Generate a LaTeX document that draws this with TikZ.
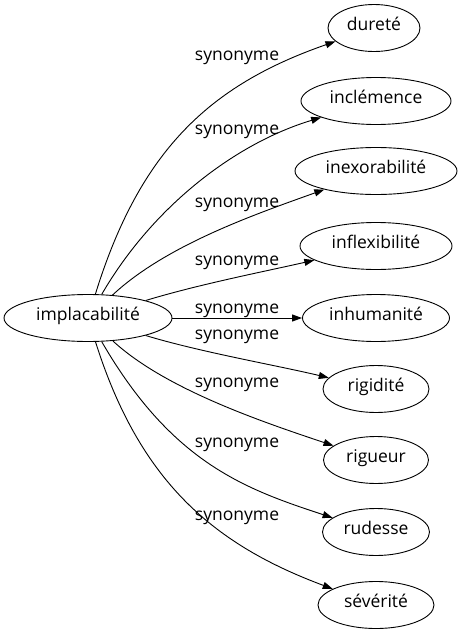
\documentclass[tikz,border=0pt]{standalone}
\usepackage{fontspec}
\setmainfont{Open Sans}
\usetikzlibrary{shapes.geometric,arrows.meta}
\begin{document}
\begin{tikzpicture}[x=1pt,y=-1pt,
  every node/.style={font=\fontsize{17.5}{20}\selectfont},
  term/.style={draw,line width=0.9pt,ellipse,inner sep=0pt,minimum height=47pt,text height=0.77em,text depth=0.23em},
  rel/.style={anchor=base,inner sep=0pt},
  link/.style={line width=0.9pt,-{Triangle[length=10pt,width=7pt]}}]
\useasboundingbox (0,0) rectangle (462,635);
\node[term,minimum width=168pt] (src) at (88,318) {implacabilité};
\node[term,minimum width=92pt]  (t1) at (374,28)  {dureté};
\node[term,minimum width=150pt] (t2) at (376,101) {inclémence};
\node[term,minimum width=162pt] (t3) at (376,171) {inexorabilité};
\node[term,minimum width=152pt] (t4) at (376,246) {inflexibilité};
\node[term,minimum width=147pt] (t5) at (376,318) {inhumanité};
\node[term,minimum width=106pt] (t6) at (376,389) {rigidité};
\node[term,minimum width=105pt] (t7) at (376,460) {rigueur};
\node[term,minimum width=107pt] (t8) at (376,532) {rudesse};
\node[term,minimum width=116pt] (t9) at (376,605) {sévérité};
\node[rel] (l1) at (237,60)  {synonyme};
\node[rel] (l2) at (237,134) {synonyme};
\node[rel] (l3) at (237,207) {synonyme};
\node[rel] (l4) at (237,265) {synonyme};
\node[rel] (l5) at (237,313) {synonyme};
\node[rel] (l6) at (237,339) {synonyme};
\node[rel] (l7) at (237,387) {synonyme};
\node[rel] (l8) at (237,447) {synonyme};
\node[rel] (l9) at (237,520) {synonyme};
\draw[link] (src) .. controls (140,150) and (210,85) .. (t1);
\draw[link] (src) .. controls (153,206) and (236,143) .. (t2);
\draw[link] (src) .. controls (166,245) and (256,214) .. (t3);
\draw[link] (src) .. controls (200,284) and (267,271) .. (t4);
\draw[link] (src) -- (t5);
\draw[link] (src) .. controls (200,352) and (275,365) .. (t6);
\draw[link] (src) .. controls (166,390) and (266,423) .. (t7);
\draw[link] (src) .. controls (172,463) and (245,489) .. (t8);
\draw[link] (src) .. controls (140,483) and (215,545) .. (t9);
\end{tikzpicture}
\end{document}
